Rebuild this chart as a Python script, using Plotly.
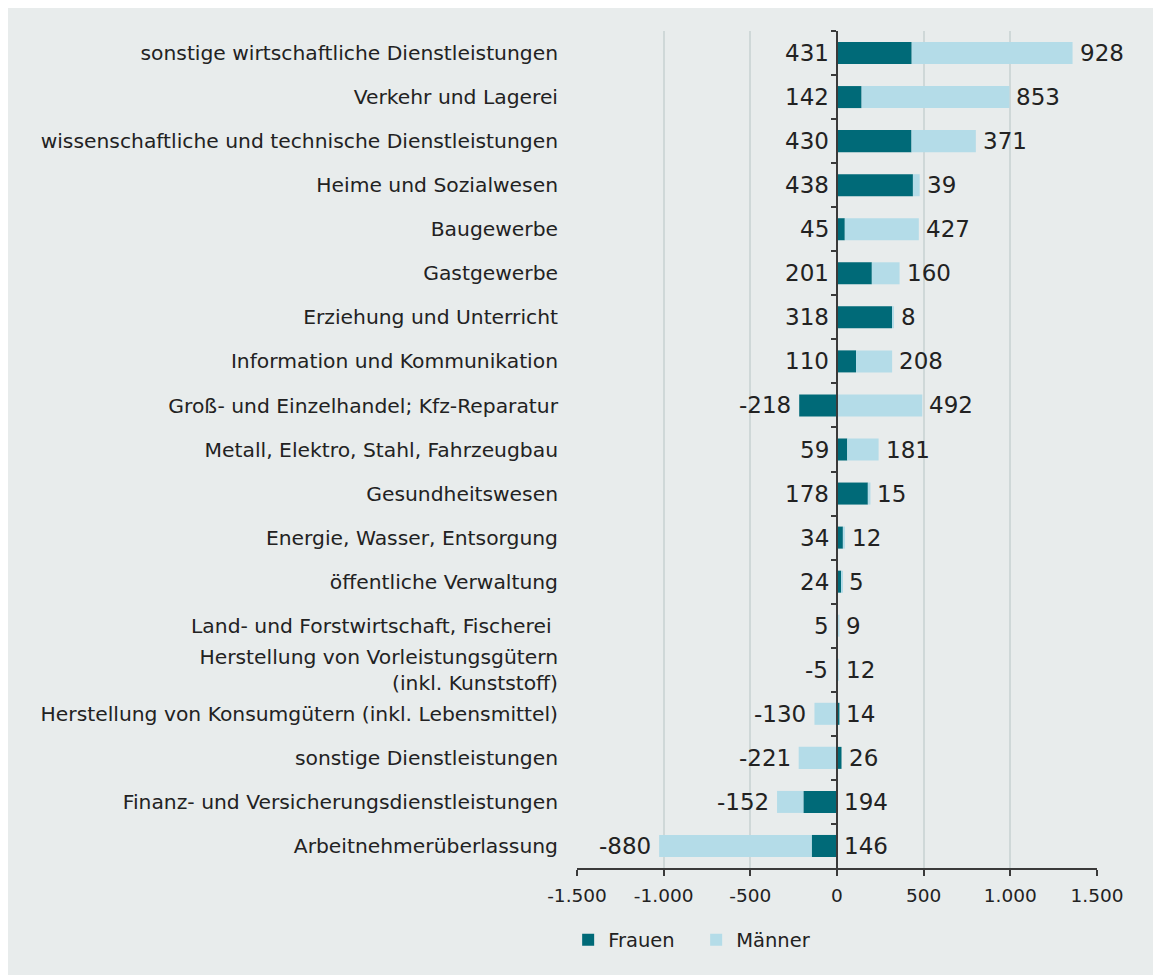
import plotly.graph_objects as go

categories = [
    "sonstige wirtschaftliche Dienstleistungen",
    "Verkehr und Lagerei",
    "wissenschaftliche und technische Dienstleistungen",
    "Heime und Sozialwesen",
    "Baugewerbe",
    "Gastgewerbe",
    "Erziehung und Unterricht",
    "Information und Kommunikation",
    "Groß- und Einzelhandel; Kfz-Reparatur",
    "Metall, Elektro, Stahl, Fahrzeugbau",
    "Gesundheitswesen",
    "Energie, Wasser, Entsorgung",
    "öffentliche Verwaltung",
    "Land- und Forstwirtschaft, Fischerei ",
    "Herstellung von Vorleistungsgütern<br>(inkl. Kunststoff)",
    "Herstellung von Konsumgütern (inkl. Lebensmittel)",
    "sonstige Dienstleistungen",
    "Finanz- und Versicherungsdienstleistungen",
    "Arbeitnehmerüberlassung",
]
frauen = [431, 142, 430, 438, 45, 201, 318, 110, -218, 59, 178, 34, 24, 5, -5, 14, 26, -194, -146]
maenner = [928, 853, 371, 39, 427, 160, 8, 208, 492, 181, 15, 12, 5, 9, 12, -130, -221, -152, -880]
left_labels = ["431", "142", "430", "438", "45", "201", "318", "110", "-218", "59", "178", "34",
               "24", "5", "-5", "-130", "-221", "-152", "-880"]
right_labels = ["928", "853", "371", "39", "427", "160", "8", "208", "492", "181", "15", "12",
                "5", "9", "12", "14", "26", "194", "146"]
tick_values = [-1500, -1000, -500, 0, 500, 1000, 1500]
tick_labels = ["-1.500", "-1.000", "-500", "0", "500", "1.000", "1.500"]

FONT = "DejaVu Sans"
TEAL = "#006a78"
LIGHT = "#b4dce8"
BG = "#e8ecec"
GRID = "#cfd8d8"
AXIS = "#3a3a3a"
TEXT = "#222222"

W, H = 1147, 975
ML, MR, MT, MB = 569, 58, 23, 115
PW, PH = W - ML - MR, H - MT - MB

fig = go.Figure()
fig.add_trace(go.Bar(y=categories, x=frauen, name="Frauen", orientation="h",
                     marker=dict(color=TEAL, line=dict(width=0)), hoverinfo="skip"))
fig.add_trace(go.Bar(y=categories, x=maenner, name="Männer", orientation="h",
                     marker=dict(color=LIGHT, line=dict(width=0)), hoverinfo="skip"))
# helper trace for the zero axis with boundary ticks
fig.add_trace(go.Scatter(y=categories, x=[0] * len(categories), yaxis="y2", mode="markers",
                         marker=dict(opacity=0), showlegend=False, hoverinfo="skip"))

annotations = []
for cat, f, m, ll, rl in zip(categories, frauen, maenner, left_labels, right_labels):
    neg = min(f, 0) + min(m, 0)
    pos = max(f, 0) + max(m, 0)
    annotations.append(dict(x=neg, y=cat, text=ll, xanchor="right", yanchor="middle",
                            xshift=-6, showarrow=False, font=dict(size=23, color=TEXT, family=FONT)))
    annotations.append(dict(x=pos, y=cat, text=rl, xanchor="left", yanchor="middle",
                            xshift=5, showarrow=False, font=dict(size=23, color=TEXT, family=FONT)))

fig.update_layout(
    width=W, height=H,
    margin=dict(l=ML, r=MR, t=MT, b=MB, pad=0),
    barmode="relative",
    bargap=0.5,
    paper_bgcolor=BG,
    plot_bgcolor=BG,
    font=dict(family=FONT, color=TEXT, size=19),
    xaxis=dict(range=[-1500, 1500], tickvals=tick_values, ticktext=tick_labels,
               showgrid=True, gridcolor=GRID, gridwidth=1.5, zeroline=False,
               showline=True, linecolor=AXIS, linewidth=1.5,
               ticks="outside", ticklen=6, tickcolor=AXIS, tickwidth=1.5,
               ticklabelstandoff=4,
               tickfont=dict(size=18.5, color=TEXT, family=FONT), fixedrange=True),
    yaxis=dict(categoryorder="array", categoryarray=categories, range=[len(categories) - 0.5, -0.5],
               showgrid=False, zeroline=False, showline=False, ticks="",
               ticklabelstandoff=18, tickfont=dict(size=20.3, color=TEXT, family=FONT)),
    yaxis2=dict(overlaying="y", anchor="free", position=0.5, side="left",
                categoryorder="array", categoryarray=categories,
                range=[len(categories) - 0.5, -0.5],
                showgrid=False, zeroline=False, showticklabels=False,
                showline=True, linecolor=AXIS, linewidth=1.5,
                ticks="outside", tickson="boundaries", ticklen=5, tickcolor=AXIS, tickwidth=1.5),
    legend=dict(orientation="h", x=-0.017, y=(860 - 932) / PH, xanchor="left", yanchor="middle",
                font=dict(size=19.5, color=TEXT, family=FONT), bgcolor="rgba(0,0,0,0)",
                entrywidth=83, itemclick=False, traceorder="normal"),
    annotations=annotations,
)

fig.write_html("out.html")
